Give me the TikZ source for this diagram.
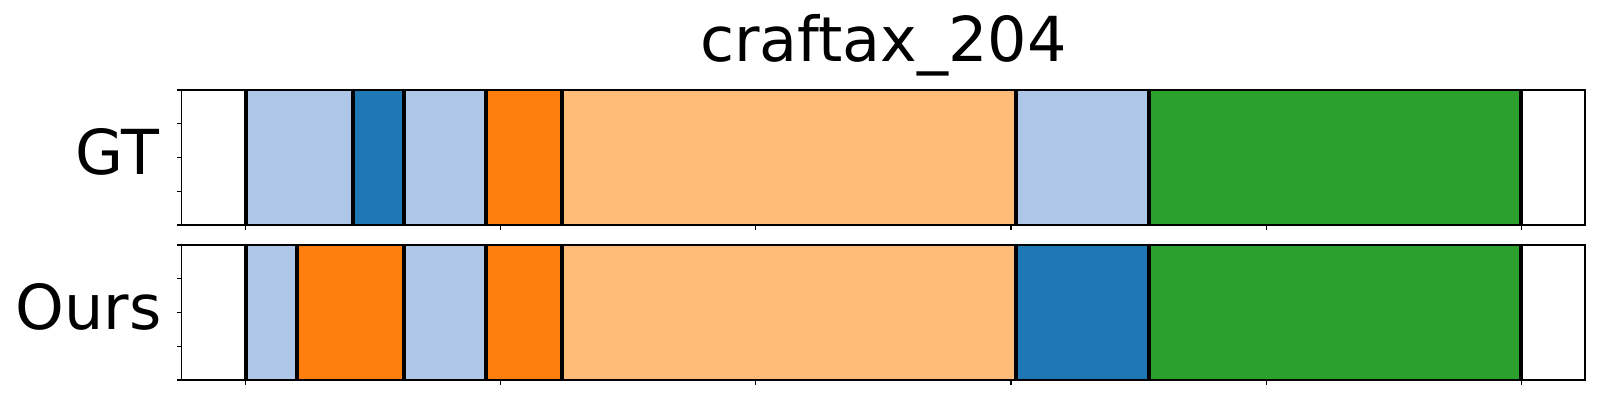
\documentclass[tikz,border=0pt]{standalone}
\usepackage{fontspec}
\setmainfont{DejaVu Sans}
\definecolor{tabblue}{HTML}{1F77B4}
\definecolor{tablightblue}{HTML}{AEC7E8}
\definecolor{taborange}{HTML}{FF7F0E}
\definecolor{tablightorange}{HTML}{FFBB78}
\definecolor{tabgreen}{HTML}{2CA02C}
\tikzset{
  segline/.style={line width=2pt},
  axframe/.style={line width=0.55pt},
  rowlabel/.style={font=\fontsize{31}{36}\selectfont, inner sep=0pt, anchor=base east}
}
\begin{document}
\begin{tikzpicture}[x=0.5pt,y=0.5pt]
    \useasboundingbox (0,0) rectangle (1600,400);
    \node [font=\fontsize{31}{36}\selectfont, inner sep=0pt, anchor=base] (title) at (883.5,338) {craftax\_204};
    \node [rowlabel] (gtlabel) at (160,225) {GT};
    \node [rowlabel] (ourslabel) at (162,70) {Ours};
    \begin{scope}[shift={(245.7,0)},x=2.551pt]
        \foreach \ybase/\segs in {175/{0/21/tablightblue,21/31/tabblue,31/47/tablightblue,47/62/taborange,62/151/tablightorange,151/177/tablightblue,177/250/tabgreen},
                                  20/{0/10/tablightblue,10/31/taborange,31/47/tablightblue,47/62/taborange,62/151/tablightorange,151/177/tabblue,177/250/tabgreen}} {
            \foreach \a/\b/\c in \segs {
                \fill [\c] (\a,\ybase) rectangle (\b,\ybase+135);
                \draw [segline] (\a,\ybase) -- (\a,\ybase+135);
            }
            \draw [segline] (250,\ybase) -- (250,\ybase+135);
            \draw [axframe] (-12.5,\ybase) rectangle (262.5,\ybase+135);
            \foreach \t in {0,...,4}
                \draw [axframe] (-12.5,\ybase+\t*33.75) -- ++(-2.5pt,0);
            \foreach \t in {0,50,...,250}
                \draw [axframe] (\t,\ybase) -- ++(0,-2.5pt);%ticks without labels
        }
    \end{scope}
\end{tikzpicture}
\end{document}
